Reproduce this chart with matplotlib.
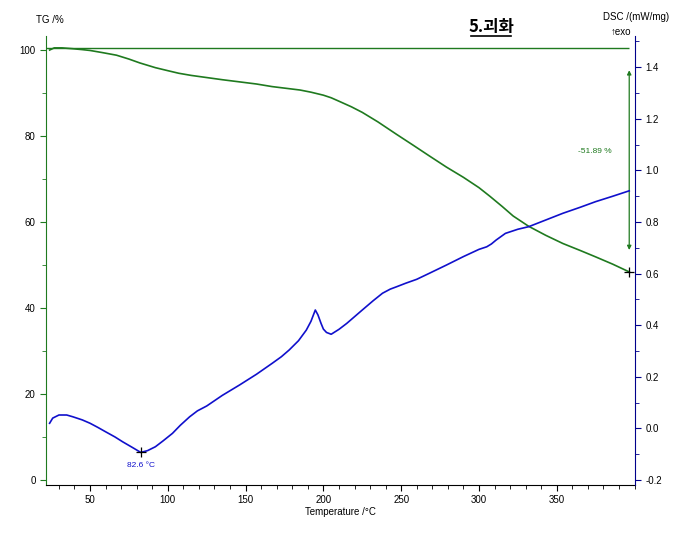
import matplotlib
matplotlib.use('Agg')
import matplotlib.pyplot as plt
from matplotlib.ticker import MultipleLocator
from matplotlib.lines import Line2D

plt.rcParams['font.family'] = ['Liberation Sans', 'DejaVu Sans']

# TG curve (temperature in degC, mass in %)
tg_temp = [24, 27, 32, 39, 45, 50, 58, 67, 75, 82, 92, 100, 107, 115, 125, 135,
           146, 157, 167, 176, 185, 192, 200, 205, 210, 218, 225, 235, 247, 258,
           268, 279, 290, 300, 307, 315, 322, 332, 343, 354, 365, 375, 386, 396.6]
tg_mass = [100.0, 100.5, 100.5, 100.3, 100.1, 99.9, 99.4, 98.8, 97.9, 97.0, 95.9,
           95.2, 94.6, 94.1, 93.6, 93.1, 92.6, 92.1, 91.5, 91.1, 90.7, 90.2, 89.5,
           88.9, 88.1, 86.8, 85.5, 83.3, 80.4, 77.8, 75.4, 72.8, 70.4, 68.0, 66.0,
           63.6, 61.4, 59.0, 56.9, 55.0, 53.4, 51.9, 50.2, 48.4]

# DSC curve (mW/mg)
dsc_temp = [24, 26, 30, 35, 39, 45, 50, 55, 60, 66, 71, 77, 82.6, 87, 92, 97, 103,
            108, 114, 119, 125, 135, 146, 157, 167, 173, 178, 184, 189, 192, 194.8,
            196.5, 198.5, 200, 202, 205, 210, 215, 225, 232, 238, 243, 247, 253, 260,
            268, 279, 290, 300, 305, 308, 311, 317, 325, 332, 343, 354, 365, 375,
            386, 396.6]
dsc_val = [0.020, 0.040, 0.052, 0.052, 0.045, 0.033, 0.020, 0.004, -0.013, -0.033,
           -0.052, -0.073, -0.093, -0.086, -0.071, -0.048, -0.019, 0.012, 0.045,
           0.068, 0.087, 0.128, 0.168, 0.210, 0.252, 0.278, 0.304, 0.340, 0.381,
           0.415, 0.459, 0.440, 0.407, 0.385, 0.372, 0.365, 0.384, 0.407, 0.459,
           0.495, 0.524, 0.540, 0.549, 0.563, 0.578, 0.601, 0.633, 0.666, 0.694,
           0.704, 0.715, 0.730, 0.756, 0.772, 0.782, 0.808, 0.834, 0.857, 0.879,
           0.900, 0.921]

peak_temp = 82.6
peak_dsc = -0.093
mass_change = '-51.89 %'
x_ticks = [50, 100, 150, 200, 250, 300, 350]

green = '#1f7a1f'
blue = '#1010cc'
navy = '#00008b'

fig = plt.figure(figsize=(6.89, 5.36), dpi=100)
ax = fig.add_axes([0.0668, 0.0951, 0.8548, 0.8377])
ax2 = ax.twinx()

ax.set_xlim(21.7, 400.3)
ax.set_ylim(-1.16, 103.26)
ax2.set_ylim(-0.2194, 1.521)

ax.plot(tg_temp, tg_mass, color=green, lw=1.2)
ax.hlines(100.5, 21.7, tg_temp[-1], color=green, lw=1.0)
ax2.plot(dsc_temp, dsc_val, color=blue, lw=1.2)

# peak marker
ax2.plot([peak_temp], [peak_dsc], marker='+', color='black', ms=7, mew=0.9)
ax2.text(peak_temp, peak_dsc - 0.05, '82.6 °C', color=blue, fontsize=6,
         ha='center', va='center')

# mass change arrow
ax.annotate('', xy=(tg_temp[-1], 95.3), xytext=(tg_temp[-1], 53.5),
            arrowprops=dict(arrowstyle='<|-|>', color=green, lw=0.9,
                            mutation_scale=6, shrinkA=0, shrinkB=0))
ax.plot([tg_temp[-1]], [tg_mass[-1]], marker='+', color='black', ms=7, mew=0.9)
ax.text(385, 76.5, mass_change, color=green, fontsize=6, ha='right', va='center')

for a in (ax, ax2):
    a.spines['top'].set_visible(False)
ax.spines['left'].set_color(green)
ax.spines['bottom'].set_color('black')
ax.spines['right'].set_visible(False)
ax2.spines['left'].set_visible(False)
ax2.spines['bottom'].set_visible(False)
ax2.spines['right'].set_color(navy)

ax.set_xticks(x_ticks)
ax.xaxis.set_minor_locator(MultipleLocator(10))
ax.yaxis.set_major_locator(MultipleLocator(20))
ax.yaxis.set_minor_locator(MultipleLocator(10))
ax2.yaxis.set_major_locator(MultipleLocator(0.2))
ax2.yaxis.set_minor_locator(MultipleLocator(0.1))
ax2.yaxis.set_major_formatter(plt.FormatStrFormatter('%.1f'))

ax.tick_params(axis='x', which='both', direction='out', labelsize=7, color='black')
ax.tick_params(axis='x', which='major', length=4)
ax.tick_params(axis='x', which='minor', length=3)
ax.tick_params(axis='y', which='both', direction='out', labelsize=7, color=green)
ax.tick_params(axis='y', which='major', length=4)
ax.tick_params(axis='y', which='minor', length=3)
ax2.tick_params(axis='y', which='both', direction='out', labelsize=7, color=navy)
ax2.tick_params(axis='y', which='major', length=4)
ax2.tick_params(axis='y', which='minor', length=3)

ax.set_xlabel('Temperature /°C', fontsize=7, labelpad=1)

fig.text(36 / 689, 1 - 20 / 536, 'TG /%', fontsize=7, ha='left', va='center')
fig.text(636 / 689, 1 - 17 / 536, 'DSC /(mW/mg)', fontsize=7, ha='center', va='center')
fig.text(621 / 689, 1 - 32 / 536, '↑exo', fontsize=7, ha='center', va='center')

fig.text(491 / 689, 1 - 27 / 536, '5.괴화', fontsize=12, fontweight='bold',
         fontstyle='italic', family=['Noto Sans CJK KR', 'DejaVu Sans'],
         ha='center', va='center')
fig.add_artist(Line2D([471 / 689, 511 / 689], [1 - 36 / 536, 1 - 36 / 536],
                      color='black', lw=1.2, transform=fig.transFigure))

fig.savefig('out.png', dpi=100)
